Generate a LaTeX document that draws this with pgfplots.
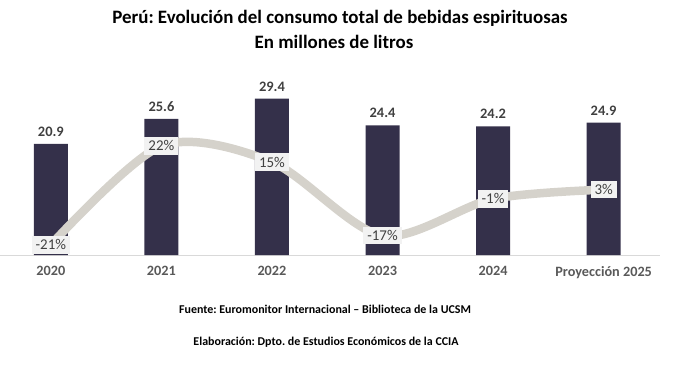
\documentclass[border=0pt]{standalone}
\usepackage{pgfplots}
\pgfplotsset{compat=1.18}
\usepackage{fontspec}
\setmainfont{Carlito}
\frenchspacing
\definecolor{barc}{HTML}{34304A}
\definecolor{linec}{HTML}{D5D2CB}
\definecolor{txt}{HTML}{404040}
\definecolor{tickc}{HTML}{595959}
\definecolor{axl}{HTML}{D9D9D9}
\definecolor{boxc}{HTML}{F2F2F2}
\begin{document}
\begin{tikzpicture}[x=1bp,y=1bp]
\begin{axis}[anchor=south west, scale only axis, width=660bp, height=185bp,
  xmin=-0.46, xmax=5.51, ymin=0, ymax=34.8,
  axis y line=none, axis x line*=bottom,
  x axis line style={draw=axl, line width=1bp, -},
  xtick={0,1,2,3,4,5},
  xticklabels={2020,2021,2022,2023,2024,Proyección 2025},
  major tick length=0pt,
  xticklabel style={font=\fontsize{14.3}{16}\selectfont\bfseries, text=tickc, yshift=-8bp},
  ybar, bar width=34bp, clip=false,
  /pgf/number format/assume math mode=true,
  nodes near coords={\pgfmathprintnumber[fixed,precision=1,fixed zerofill,assume math mode=true]{\pgfplotspointmeta}},
  nodes near coords style={font=\fontsize{14.5}{16}\selectfont\bfseries, text=txt, anchor=south, yshift=4bp}]
\addplot[fill=barc, draw=none] coordinates {(0,20.9) (1,25.6) (2,29.4) (3,24.4) (4,24.2) (5,24.9)};
\end{axis}
\begin{axis}[anchor=south west, scale only axis, width=660bp, height=185bp,
  xmin=-0.46, xmax=5.51, ymin=-25.4, ymax=55, axis lines=none, clip=false,
  /pgf/number format/assume math mode=true]
\addplot[linec, line width=8.5bp, smooth,
  nodes near coords={\pgfmathprintnumber[assume math mode=true]{\pgfplotspointmeta}\%},
  nodes near coords style={font=\fontsize{15}{17}\selectfont, text=txt, fill=boxc, anchor=center, inner xsep=4bp, inner ysep=3.5bp}]
  coordinates {(0,-21) (1,22) (2,15) (3,-17) (4,-1) (5,3)};
\end{axis}
\node[font=\fontsize{19}{22}\selectfont\bfseries] at (340,237) {Perú: Evolución del consumo total de bebidas espirituosas};
\node[font=\fontsize{19}{22}\selectfont\bfseries] at (334,213) {En millones de litros};
\node[font=\fontsize{12}{14}\selectfont\bfseries] at (325,-54) {Fuente: Euromonitor Internacional – Biblioteca de la UCSM};
\node[font=\fontsize{12}{14}\selectfont\bfseries] at (326,-87) {Elaboración: Dpto. de Estudios Económicos de la CCIA};
\pgfresetboundingbox
\path (0,-124) rectangle (673,255);
\end{tikzpicture}
\end{document}
